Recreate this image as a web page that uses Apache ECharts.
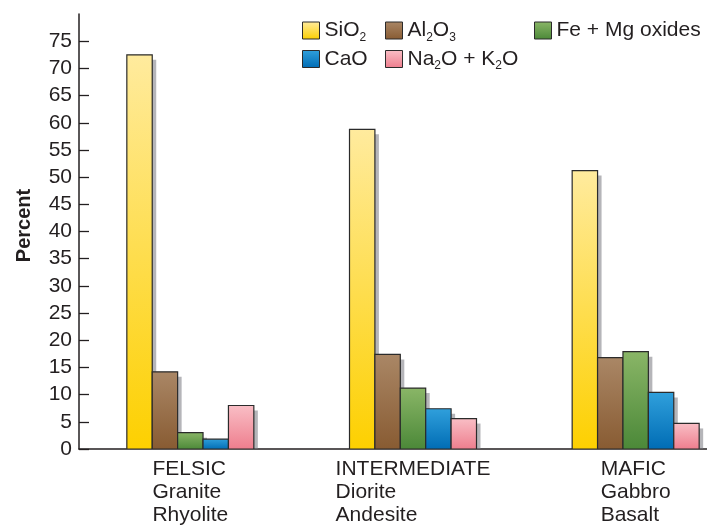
<!DOCTYPE html>
<html>
<head>
<meta charset="utf-8">
<script src="https://cdn.jsdelivr.net/npm/echarts@6/dist/echarts.min.js"></script>
<style>
html,body{margin:0;padding:0;background:#fff;}
#chart{width:707px;height:526px;}
</style>
</head>
<body>
<div id="chart"></div>
<script>
// ---- data ----
const groupNames = ['FELSIC', 'INTERMEDIATE', 'MAFIC'];
const rockPlutonic = ['Granite', 'Diorite', 'Gabbro'];
const rockVolcanic = ['Rhyolite', 'Andesite', 'Basalt'];
const seriesNames = ['SiO2', 'Al2O3', 'Fe + Mg oxides', 'CaO', 'Na2O + K2O'];
const sio2 = [72.5, 58.8, 51.2];
const al2o3 = [14.2, 17.4, 16.8];
const feMgOxides = [3.0, 11.2, 17.9];
const cao = [1.8, 7.4, 10.4];
const na2oK2o = [8.0, 5.6, 4.7];
const yTickValues = [0, 5, 10, 15, 20, 25, 30, 35, 40, 45, 50, 55, 60, 65, 70, 75];

// ---- styling ----
const FONT = '"Liberation Sans", Arial, Helvetica, sans-serif';
const TXT = '#231f20';
const BAR_W = 25.4;
function grad(top, bottom) {
  return new echarts.graphic.LinearGradient(0, 0, 0, 1, [
    { offset: 0, color: top }, { offset: 1, color: bottom }
  ]);
}
const fills = [
  grad('#ffeb9e', '#fdd000'),
  grad('#aa8766', '#885b32'),
  grad('#8ab667', '#4b8838'),
  grad('#30a0dc', '#006cb4'),
  grad('#f9bfc6', '#ee7d8d')
];
const valuesBySeries = [sio2, al2o3, feMgOxides, cao, na2oK2o];
const categories = groupNames.map((g, i) => g + '\n' + rockPlutonic[i] + '\n' + rockVolcanic[i]);

function richName(name) {
  return '{n|' + name.replace(/(\d)/g, '}{s|$1}{n|') + '}';
}

const legendPos = [
  { left: 302, top: 20 },
  { left: 385, top: 20 },
  { left: 534, top: 20 },
  { left: 302, top: 48.5 },
  { left: 385, top: 48.5 }
];

function makeRender(k, n) {
  return function (params, api) {
    const cat = api.value(0);
    const val = api.value(1);
    const base = api.coord([cat, 0]);
    const top = api.coord([cat, val]);
    const x0 = base[0] - (n / 2) * BAR_W + k * BAR_W;
    const h = base[1] - top[1];
    return {
      type: 'group',
      children: [
        {
          type: 'rect',
          shape: { x: x0 + 4, y: top[1] + 5, width: BAR_W, height: Math.max(0, h - 5) },
          style: { fill: 'rgba(120,120,128,0.55)' }
        },
        {
          type: 'rect',
          shape: { x: x0, y: top[1], width: BAR_W, height: h },
          style: { fill: fills[k], stroke: '#2b2b2b', lineWidth: 1.2 }
        }
      ]
    };
  };
}

const chart = echarts.init(document.getElementById('chart'), null, { renderer: 'canvas' });
chart.setOption({
  animation: false,
  backgroundColor: '#fff',
  textStyle: { fontFamily: FONT },
  grid: { left: 79, top: 14, width: 668, bottom: 77, containLabel: false, outerBoundsMode: 'none' },
  legend: seriesNames.map((nm, i) => ({
    data: [nm],
    left: legendPos[i].left,
    top: legendPos[i].top,
    padding: 0,
    icon: 'rect',
    itemWidth: 17,
    itemHeight: 17,
    itemGap: 0,
    selectedMode: false,
    itemStyle: { borderColor: '#2b2b2b', borderWidth: 1 },
    formatter: richName,
    textStyle: {
      color: TXT,
      fontFamily: FONT,
      rich: {
        n: { fontSize: 21, lineHeight: 26, fontFamily: FONT, color: TXT },
        s: { fontSize: 12, lineHeight: 12, verticalAlign: 'bottom', fontFamily: FONT, color: TXT }
      }
    }
  })),
  xAxis: {
    type: 'category',
    data: categories,
    axisLine: { show: true, lineStyle: { color: '#231f20', width: 1.5 } },
    axisTick: { show: false },
    axisLabel: {
      margin: 9,
      interval: 0,
      formatter: v => v.split('\n').map(s => '{l|' + s + '}').join('\n'),
      rich: {
        l: { align: 'left', fontSize: 21, lineHeight: 23, color: TXT, fontFamily: FONT }
      }
    },
    splitLine: { show: false }
  },
  yAxis: {
    type: 'value',
    min: 0,
    max: 80,
    interval: 5,
    name: 'Percent',
    nameLocation: 'middle',
    nameGap: 45,
    nameTextStyle: { fontSize: 20, fontWeight: 'bold', color: TXT, fontFamily: FONT, padding: [0, 0, 0, 12] },
    axisLine: { show: true, lineStyle: { color: '#231f20', width: 1.5 } },
    axisTick: { show: true, inside: true, length: 10, customValues: yTickValues, lineStyle: { color: '#231f20', width: 1.3 } },
    axisLabel: { fontSize: 21, color: TXT, margin: 7, fontFamily: FONT, customValues: yTickValues },
    splitLine: { show: false }
  },
  series: seriesNames.map((nm, i) => ({
    name: nm,
    type: 'custom',
    renderItem: makeRender(i, seriesNames.length),
    encode: { x: 0, y: 1 },
    data: valuesBySeries[i].map((v, c) => [c, v]),
    clip: true,
    itemStyle: { color: fills[i], borderColor: '#2b2b2b', borderWidth: 1 }
  }))
});
</script>
</body>
</html>
